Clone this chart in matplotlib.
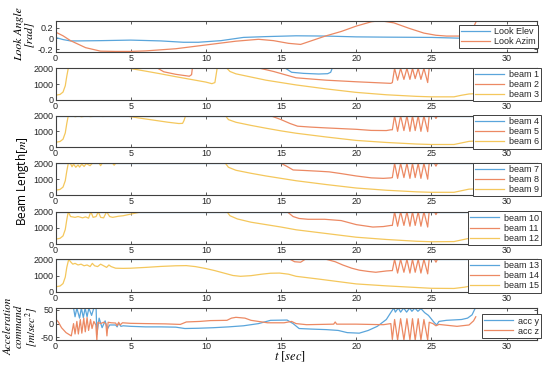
import matplotlib
matplotlib.use("Agg")
import matplotlib.pyplot as plt

plt.rcParams['font.family'] = ['Liberation Sans', 'DejaVu Sans']
plt.rcParams['mathtext.fontset'] = 'stix'

C_BLUE = '#5aa5db'
C_ORANGE = '#ec8963'
C_YELLOW = '#f4c75c'

# ---------------- data ----------------
# Look angles [rad]
elev_t = [0, 0.5, 1.0, 1.5, 3, 5, 7, 8.5, 9.5, 11, 12.5, 14, 16, 18, 20, 22, 25, 27, 27.9]
elev_v = [0.02, -0.02, -0.045, -0.045, -0.04, -0.03, -0.045, -0.07, -0.07, -0.04,
          0.02, 0.035, 0.05, 0.045, 0.03, 0.025, 0.02, 0.005, 0.015]
azim_t = [0, 0.5, 1, 2, 3, 4, 5, 6, 8, 10, 12, 13.5, 14.5, 15.5, 16.3, 18, 19, 20, 21,
          21.6, 22.5, 23.5, 24.5, 25.3, 26, 27.1, 27.6, 27.8, 27.95]
azim_v = [0.12, 0.05, -0.04, -0.17, -0.235, -0.24, -0.24, -0.23, -0.19, -0.12, -0.05,
          -0.015, -0.04, -0.09, -0.11, 0.05, 0.13, 0.23, 0.31, 0.33, 0.29, 0.19, 0.1,
          0.06, 0.045, 0.045, 0.11, 0.21, 0.3]

# shared times of the oscillation burst (22.3 s .. 24.9 s)
osc_t = [22.4, 22.55, 22.75, 22.95, 23.17, 23.37, 23.57, 23.74, 23.92, 24.12, 24.3, 24.5, 24.75, 24.85]

# Beam lengths [m]
beam1_t = [0, 15.3, 15.7, 16.5, 17.5, 18.1, 18.3, 18.4, 27.9]
beam1_v = [2000, 2000, 1750, 1680, 1640, 1660, 1750, 2000, 2000]
beam2_t = [0, 6.8, 7.2, 8.0, 8.9, 9.05, 9.1, 13.6, 14.5, 16.0, 18.0, 20.0, 22.3] + osc_t + [27.9]
beam2_v = [2000, 2000, 1780, 1620, 1500, 1600, 2000, 2000, 1800, 1400, 1250, 1150, 1050,
           1100, 2000, 1250, 2000, 1300, 2000, 1300, 2000, 1350, 2000, 1300, 2000, 1100, 2000, 2000]
beam3_t = [0, 0.3, 0.5, 0.65, 0.75, 0.85, 4.9, 6, 7, 8, 9, 10, 10.4, 10.6, 10.75, 11.4, 11.6,
           12, 13, 14, 15, 16, 18, 20, 22, 24, 25, 26.5, 27, 27.5, 27.9]
beam3_v = [300, 350, 500, 900, 1500, 2000, 2000, 1820, 1650, 1470, 1300, 1130, 1030, 1100,
           2000, 2000, 1800, 1650, 1450, 1250, 1100, 950, 700, 480, 330, 230, 200, 200, 300, 380, 400]

beam4_t = [0, 27.9]
beam4_v = [2000, 2000]
beam5_t = [0, 14.3, 15.0, 15.6, 16.1, 17.0, 18.0, 20.0, 21.0, 22.0, 22.3] + osc_t + [25.2, 25.3, 25.4, 27.9]
beam5_v = [2000, 2000, 1750, 1500, 1330, 1270, 1220, 1130, 1060, 1050, 1100,
           1100, 2000, 1000, 2000, 1050, 2000, 1000, 2000, 1050, 2000, 1000, 2000, 980, 2000,
           2000, 1820, 2000, 2000]
beam6_t = [0, 0.3, 0.5, 0.65, 0.75, 0.85, 1.2, 1.3, 1.6, 1.7, 2.2, 2.3, 3.0, 3.1, 4.6, 5.5,
           6.5, 7.5, 8.2, 8.45, 8.55, 8.65, 11.3, 11.5, 12, 13, 14, 15, 16, 18, 20, 22, 24,
           25, 26.5, 27, 27.5, 27.9]
beam6_v = [300, 350, 500, 900, 1500, 2000, 2000, 1930, 2000, 1930, 2000, 1940, 2000, 1950,
           2000, 1860, 1720, 1580, 1500, 1510, 1700, 2000, 2000, 1750, 1580, 1380, 1200, 1030,
           880, 640, 420, 290, 190, 160, 160, 260, 360, 380]

beam7_t = [0, 27.9]
beam7_v = [2000, 2000]
beam8_t = [0, 15.0, 15.4, 15.8, 16.5, 17.5, 18.2, 19.0, 20.0, 21.0, 21.8, 22.3] + osc_t + [25.2, 25.3, 25.4, 27.9]
beam8_v = [2000, 2000, 1800, 1580, 1550, 1500, 1460, 1350, 1200, 1080, 1050, 1080,
           1100, 2000, 1050, 2000, 1100, 2000, 1050, 2000, 1100, 2000, 1050, 2000, 1000, 2000,
           2000, 1820, 2000, 2000]
beam9_t = [0, 0.3, 0.5, 0.65, 0.75, 0.85, 1.0, 1.1, 1.2, 1.35, 1.5, 1.6, 1.75, 1.9, 2.05,
           2.3, 2.45, 2.9, 3.0, 3.1, 3.8, 3.9, 4.0, 11.3, 11.5, 12, 13, 14, 15, 16, 18, 20,
           22, 24, 25, 26.5, 27, 27.5, 27.9]
beam9_v = [300, 350, 500, 900, 1500, 2000, 1980, 1780, 1950, 1750, 1900, 1760, 1950, 1800,
           1980, 1850, 2000, 2000, 1850, 2000, 2000, 1880, 2000, 2000, 1750, 1560, 1370, 1200,
           1050, 900, 660, 440, 300, 200, 170, 170, 270, 370, 380]

beam10_t = [0, 27.9]
beam10_v = [2000, 2000]
beam11_t = [0, 15.4, 15.8, 16.2, 16.8, 17.9, 19.0, 20.0, 21.1, 21.8, 22.3] + osc_t + [25.2, 25.3, 25.4, 27.9]
beam11_v = [2000, 2000, 1700, 1580, 1530, 1530, 1450, 1200, 1050, 1080, 1150,
            1150, 2000, 1100, 2000, 1150, 2000, 1100, 2000, 1150, 2000, 1100, 2000, 1050, 2000,
            2000, 1820, 2000, 2000]
beam12_t = [0, 0.3, 0.5, 0.65, 0.75, 0.85, 1.0, 1.3, 1.5, 1.8, 2.0, 2.2, 2.35, 2.5, 2.7,
            2.85, 3.0, 3.2, 3.4, 3.6, 3.8, 4.2, 4.5, 5.0, 5.5, 5.9, 11.4, 11.6, 12.1, 13, 14,
            15, 16, 18, 20, 22, 24, 25, 26.5, 27, 27.5, 27.9]
beam12_v = [300, 350, 500, 900, 1500, 2000, 1700, 1650, 1700, 1620, 1680, 1600, 2000, 1650,
            1700, 2000, 1650, 1620, 2000, 1700, 1650, 1720, 1750, 1850, 1950, 2000, 2000, 1750,
            1550, 1350, 1200, 1050, 880, 650, 420, 280, 170, 140, 150, 250, 350, 390]

beam13_t = [0, 27.9]
beam13_v = [2000, 2000]
beam14_t = [0, 15.6, 15.9, 16.3, 16.6, 18.0, 18.6, 19.1, 19.7, 20.2, 20.8, 21.3, 22.0, 22.3] + osc_t + [25.2, 25.3, 25.4, 27.9]
beam14_v = [2000, 2000, 1850, 1820, 2000, 2000, 1850, 1650, 1450, 1330, 1250, 1200, 1280, 1300,
            1300, 2000, 1150, 2000, 1200, 2000, 1150, 2000, 1200, 2000, 1150, 2000, 1100, 2000,
            2000, 1820, 2000, 2000]
beam15_t = [0, 0.3, 0.5, 0.65, 0.75, 0.88, 1.0, 1.15, 1.3, 1.5, 1.7, 1.9, 2.1, 2.3, 2.45,
            2.6, 2.8, 3.0, 3.2, 3.4, 3.55, 3.7, 4.0, 4.5, 5.0, 6.0, 7.0, 8.0, 8.7, 9.3, 10.0,
            10.6, 11.2, 11.8, 12.3, 13.0, 13.7, 14.3, 14.9, 15.5, 16.0, 17.5, 19.0, 20.0,
            22.0, 24.0, 25.0, 26.5, 27.2, 27.6, 27.9]
beam15_v = [300, 350, 500, 900, 1500, 2000, 1850, 1700, 1750, 1650, 1700, 1600, 1650, 1550,
            1750, 1600, 1550, 1700, 1600, 1500, 1650, 1550, 1450, 1440, 1450, 1500, 1560, 1600,
            1610, 1550, 1430, 1300, 1150, 1000, 950, 990, 1080, 1140, 1150, 1080, 950, 780,
            600, 480, 360, 260, 210, 200, 280, 350, 360]

# Acceleration command [m/sec^2]
accy_t = [0, 1.2, 1.3, 1.42, 1.6, 1.72, 1.85, 1.97, 2.1, 2.22, 2.4, 2.55, 2.7, 2.75, 2.9,
          3.1, 3.3, 3.45, 3.6, 4.0, 4.1, 4.2, 4.35, 4.5, 5, 6, 7, 8, 8.6, 9.5, 10.5, 11.5,
          12.5, 13.5, 14.3, 15.4, 15.8, 16.2, 17, 18, 18.8, 19.4, 20.2, 20.8, 21.4, 22.0,
          22.35, 22.5, 22.6, 22.8, 22.95, 23.15, 23.35, 23.55, 23.7, 23.9, 24.1, 24.3,
          24.55, 24.8, 25.2, 25.35, 25.5, 26, 27, 27.4, 27.7, 27.9]
accy_v = [57, 57, 25, 57, 20, 57, 22, 57, 25, 57, 30, 57, 57, -40, 20, -15, 10, -20, -5,
          -5, -12, 2, -10, -8, -10, -12, -12, -13, -18, -17, -15, -12, -8, 0, 12, 13, 0,
          -18, -20, -22, -25, -33, -35, -25, -10, 15, 45, 57, 42, 57, 42, 57, 42, 57, 45,
          57, 45, 55, 40, 30, 3, -5, 8, 12, 15, 20, 32, 55]
accz_t = [0, 0.2, 0.4, 0.7, 1.05, 1.2, 1.3, 1.42, 1.52, 1.65, 1.75, 1.88, 1.98, 2.1, 2.2,
          2.33, 2.43, 2.55, 2.68, 2.75, 2.82, 3.0, 3.2, 3.35, 3.42, 3.5, 3.7, 4.0, 4.1, 4.2,
          4.3, 4.45, 5.0, 6.0, 7.3, 8.3, 8.7, 9.6, 10.3, 11.4, 11.7, 12.0, 12.6, 13.0, 14.1,
          15.2, 15.7, 16.0, 16.7, 18.5, 18.6, 18.7, 20.0, 21.8, 22.3] + osc_t + \
         [25.1, 25.3, 25.5, 26.7, 27.5, 27.8, 27.95]
accz_v = [18, 5, -15, -33, -45, 0, -38, 8, -38, 15, -35, 20, -30, 22, -25, 15, -18, 8, -5,
          -60, 5, 0, 5, 0, -45, 5, 3, 2, -8, 5, -5, 3, 1, 0, -1, -3, 6, 8, 11, 12, 20, 23,
          20, 12, 3, 3, 8, 0, -4, -2, 6, -2, -2, -4, 0,
          -58, 15, -60, 18, -60, 18, -60, 18, -60, 18, -60, 15, -60, 5,
          0, -8, -3, -10, -5, 10, 25]

# ---------------- figure ----------------
W, H = 550, 369
fig = plt.figure(figsize=(W / 100, H / 100), dpi=100)

tops = [20.7, 68.3, 115.7, 163.3, 211.7, 259.3, 308.3]
bots = [51.7, 100.0, 147.0, 195.0, 244.0, 291.7, 340.0]
x0, x1 = 55.5, 536.7

panels = [
    [(elev_t, elev_v, C_BLUE, 'Look Elev'), (azim_t, azim_v, C_ORANGE, 'Look Azim')],
    [(beam1_t, beam1_v, C_BLUE, 'beam 1'), (beam2_t, beam2_v, C_ORANGE, 'beam 2'), (beam3_t, beam3_v, C_YELLOW, 'beam 3')],
    [(beam4_t, beam4_v, C_BLUE, 'beam 4'), (beam5_t, beam5_v, C_ORANGE, 'beam 5'), (beam6_t, beam6_v, C_YELLOW, 'beam 6')],
    [(beam7_t, beam7_v, C_BLUE, 'beam 7'), (beam8_t, beam8_v, C_ORANGE, 'beam 8'), (beam9_t, beam9_v, C_YELLOW, 'beam 9')],
    [(beam10_t, beam10_v, C_BLUE, 'beam 10'), (beam11_t, beam11_v, C_ORANGE, 'beam 11'), (beam12_t, beam12_v, C_YELLOW, 'beam 12')],
    [(beam13_t, beam13_v, C_BLUE, 'beam 13'), (beam14_t, beam14_v, C_ORANGE, 'beam 14'), (beam15_t, beam15_v, C_YELLOW, 'beam 15')],
    [(accy_t, accy_v, C_BLUE, 'acc y'), (accz_t, accz_v, C_ORANGE, 'acc z')],
]
ylims = [(-0.245, 0.33)] + [(0, 2000)] * 5 + [(-60, 56)]
yticks = [[-0.2, 0, 0.2]] + [[0, 1000, 2000]] * 5 + [[-50, 0, 50]]
ytlabels = [['-0.2', '0', '0.2']] + [['0', '1000', '2000']] * 5 + [['-50', '0', '50']]
leg_y = [0.49, 0.49, 0.49, 0.49, 0.49, 0.49, 0.44]
leg_x = [1.003, 1.009, 1.009, 1.009, 1.009, 1.009, 1.009]

AX_COL = '#404040'
for i, series in enumerate(panels):
    ax = fig.add_axes([x0 / W, 1 - bots[i] / H, (x1 - x0) / W, (bots[i] - tops[i]) / H])
    for t, v, c, lab in series:
        ax.plot(t, v, color=c, lw=0.9, label=lab)
    ax.set_xlim(0, 32)
    ax.set_ylim(*ylims[i])
    ax.set_xticks([0, 5, 10, 15, 20, 25, 30])
    ax.set_yticks(yticks[i])
    ax.set_yticklabels(ytlabels[i])
    ax.tick_params(direction='in', length=2.5, width=0.6, labelsize=6.5, pad=1.5,
                   top=True, right=True, colors=AX_COL, labelcolor='#262626')
    for s in ax.spines.values():
        s.set_color(AX_COL)
        s.set_linewidth(0.8)
    leg = ax.legend(loc='center right', bbox_to_anchor=(leg_x[i], leg_y[i]), borderaxespad=0,
                    fontsize=6.5, handlelength=3.2, handletextpad=0.5, labelspacing=0.12,
                    borderpad=0.25, fancybox=False, framealpha=1, edgecolor=AX_COL)
    leg.get_frame().set_linewidth(0.7)
    for txt in leg.get_texts():
        txt.set_color('#262626')

fig.text(24 / W, 1 - 34 / H, 'Look Angle\n[rad]', rotation=90, ha='center', va='center',
         family='STIXGeneral', style='italic', fontsize=8.5, linespacing=1.0)
fig.text(23 / W, 1 - 181 / H, r'Beam Length[$m$]', rotation=90, ha='center', va='center',
         family='Open Sans', fontsize=8.5)
fig.text(22 / W, 1 - 326 / H, 'Acceleration\ncommand\n' + r'[$m/sec^2$]', rotation=90,
         ha='center', va='center', family='STIXGeneral', style='italic', fontsize=8,
         linespacing=1.0)
fig.text(290 / W, 1 - 357 / H, r'$t\ [sec]$', ha='center', va='center', fontsize=9)

fig.savefig('out.png', dpi=100)
